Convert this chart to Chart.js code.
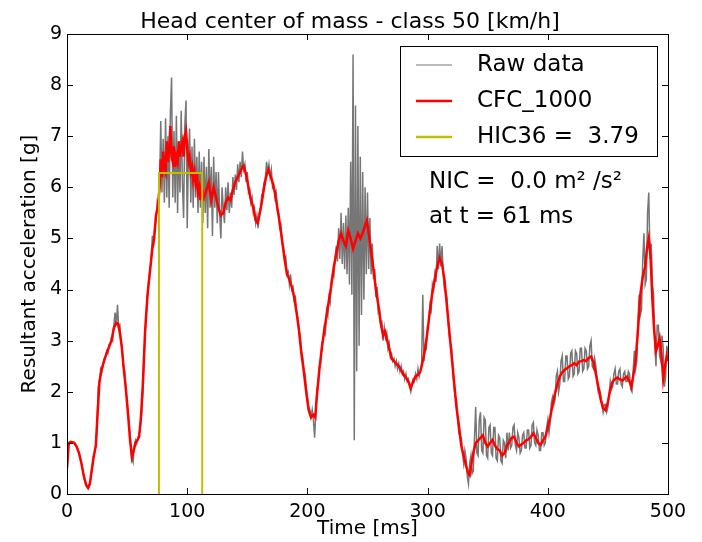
<!DOCTYPE html>
<html>
<head>
<meta charset="utf-8">
<script src="https://cdn.jsdelivr.net/npm/chart.js@4.4.0/dist/chart.umd.min.js"></script>
<style>
  html, body { margin: 0; padding: 0; background: #fff; }
</style>
</head>
<body>
<canvas id="chart" width="702" height="542"></canvas>
<script>
// raw signal, one sample every ms starting at t = 0
var rawStep = 1;
var rawValues = [
  0.5, 0.95, 1.0, 1.02, 1.02, 1.01, 1.0, 0.97, 0.93, 0.87,
  0.8, 0.7, 0.6, 0.48, 0.35, 0.25, 0.17, 0.13, 0.12, 0.18,
  0.36, 0.52, 0.72, 0.82, 0.93, 1.3, 2.1, 2.2, 2.45, 2.4,
  2.5, 2.65, 2.7, 2.8, 2.75, 2.92, 2.95, 3.05, 3.0, 3.3,
  3.55, 3.3, 3.7, 3.25, 3.3, 2.95, 2.8, 2.5, 2.4, 2.0,
  1.8, 1.55, 1.25, 1.0, 0.7, 0.62, 0.95, 1.05, 0.98, 1.1,
  1.18, 1.3, 1.55, 1.95, 2.55, 3.1, 3.55, 3.85, 4.2, 4.35,
  4.6, 5.05, 4.85, 5.2, 5.35, 5.7, 5.6, 5.95, 7.3, 5.9,
  6.95, 5.7, 7.35, 5.8, 7.0, 5.6, 7.45, 8.15, 5.8, 7.1,
  5.7, 7.4, 5.5, 6.9, 5.9, 7.5, 6.1, 5.4, 7.2, 7.7,
  5.2, 6.6, 7.15, 5.7, 6.8, 5.6, 6.95, 5.8, 6.6, 5.5,
  6.7, 5.6, 6.5, 5.3, 6.6, 5.5, 6.4, 5.2, 6.75, 5.6,
  6.4, 5.05, 6.6, 5.6, 6.3, 5.3, 6.3, 5.5, 5.0, 6.0,
  5.6, 5.3, 6.0, 5.55, 6.1, 5.5, 5.9, 5.6, 6.2, 5.85,
  6.25, 5.95, 6.45, 6.1, 6.5, 6.2, 6.7, 6.35, 6.45, 6.1,
  6.3, 5.9, 5.95, 5.7, 5.8, 5.5, 5.6, 5.3, 5.45, 5.2,
  5.5, 5.55, 5.85, 5.9, 6.1, 6.15, 6.5, 6.3, 6.45, 6.2,
  6.35, 6.0, 6.05, 5.8, 5.9, 5.55, 5.5, 5.2, 5.25, 4.9,
  4.85, 4.6, 4.65, 4.3, 4.35, 4.1, 4.3, 4.0, 4.05, 3.8,
  3.85, 3.55, 3.45, 3.2, 3.1, 2.8, 2.7, 2.45, 2.35, 2.1,
  1.9, 1.7, 1.65, 1.5, 1.65, 1.45, 1.1, 1.6, 2.05, 2.15,
  2.5, 2.55, 2.95, 3.0, 3.25, 3.15, 3.6, 3.5, 3.85, 3.75,
  4.2, 4.3, 4.25, 4.6, 4.85, 4.55, 5.2, 4.6, 5.5, 4.5,
  5.3, 4.4, 5.45, 4.3, 5.6, 4.1, 6.5, 3.9, 8.6, 1.05,
  7.6, 2.4, 7.2, 2.9, 6.6, 3.5, 6.3, 3.8, 6.0, 4.3,
  5.9, 4.4, 5.4, 4.3, 4.9, 4.2, 4.4, 3.85, 4.05, 3.55,
  3.6, 3.3, 3.35, 3.0, 3.25, 3.05, 3.15, 2.85, 2.95, 2.7,
  2.75, 2.6, 2.65, 2.5, 2.6, 2.45, 2.55, 2.4, 2.5, 2.35,
  2.4, 2.25, 2.35, 2.2, 2.25, 2.1, 2.0, 2.15, 2.25, 2.2,
  2.35, 2.25, 2.45, 2.3, 2.4, 2.5, 3.9, 2.6, 2.9, 2.85,
  3.3, 3.35, 3.7, 3.6, 4.1, 4.0, 4.3, 4.15, 4.85, 4.4,
  4.9, 4.45, 4.85, 4.3, 4.0, 3.95, 3.85, 3.4, 3.1, 2.95,
  2.85, 2.45, 2.1, 1.9, 1.85, 1.45, 1.2, 1.1, 1.1, 0.8,
  0.6, 0.85, 0.7, 0.35, 0.2, 0.6, 0.75, 0.4, 0.45, 1.1,
  1.7, 0.8, 0.75, 1.45, 1.6, 0.85, 0.8, 1.5, 1.45, 0.75,
  0.7, 1.3, 1.35, 0.8, 0.75, 1.3, 1.3, 0.7, 0.65, 1.15,
  1.1, 0.65, 0.6, 1.05, 1.0, 0.7, 1.2, 0.85, 1.2, 0.9,
  0.95, 1.3, 1.35, 0.95, 0.85, 1.2, 1.1, 0.8, 0.85, 1.15,
  1.2, 0.9, 0.9, 1.25, 1.25, 0.9, 0.95, 1.35, 1.4, 1.0,
  0.95, 1.25, 1.15, 0.85, 0.85, 1.2, 1.2, 0.95, 1.0, 1.3,
  1.45, 1.2, 1.4, 1.8, 1.9, 1.75, 1.85, 2.3, 2.4, 2.0,
  2.15, 2.6, 2.7, 2.2, 2.2, 2.7, 2.7, 2.25, 2.3, 2.75,
  2.8, 2.3, 2.35, 2.8, 2.75, 2.35, 2.4, 2.85, 2.85, 2.4,
  2.45, 2.85, 2.8, 2.45, 2.5, 2.9, 3.0, 2.5, 2.45, 2.65,
  2.5, 2.2, 2.0, 2.05, 1.95, 1.75, 1.6, 1.75, 1.75, 1.6,
  1.7, 1.95, 2.2, 2.05, 2.1, 2.35, 2.45, 2.15, 2.15, 2.4,
  2.45, 2.15, 2.1, 2.35, 2.4, 2.2, 2.2, 2.4, 2.35, 2.05,
  2.0, 2.4, 2.8, 2.45, 2.6, 3.4, 3.9, 3.5, 3.6, 4.6,
  5.1, 4.1, 4.2, 5.5, 5.9, 4.6, 4.9, 4.1, 3.9, 2.9,
  2.5, 3.3, 3.3, 2.7, 2.6, 3.1, 2.85, 2.1, 2.3, 2.9,
  2.75
];

// CFC_1000 filtered curve
var cfcTime = [
  0, 1.5, 3, 6, 8, 10, 12, 14, 16, 17.5, 19, 20.5, 22, 24, 25.5, 27, 29, 31, 33, 35,
  37, 39, 41, 42.5, 44, 45.5, 47, 49, 51, 52.5, 54, 55.5, 57, 58.5, 60, 61.5, 63, 65, 67, 69,
  71, 72.5, 74, 75.5, 77, 78, 79, 80, 81, 82, 83, 84, 85, 86, 87, 88, 89, 90, 91, 92,
  93, 94, 95, 96, 97, 98, 99, 100, 101, 102, 103, 104, 105, 106, 107, 108, 109, 110, 111, 112,
  114, 116, 118, 120, 122, 124, 126, 128, 130, 132, 134, 136, 138, 140, 142, 144, 146, 147, 149, 151,
  153, 155, 157, 158.5, 160, 162, 164, 166, 167.5, 169, 171, 173, 175, 177, 179, 181, 183, 185, 187, 189,
  191, 193, 195, 197, 199, 201, 203, 205, 206.5, 208, 210, 212, 214, 216, 218, 220, 222, 224, 226, 228,
  230, 232, 234, 236, 238, 240, 242, 244, 246, 248, 249.5, 251, 253, 255, 257, 259, 261, 263, 264.5, 266,
  268, 270, 272, 274, 276, 278, 280, 282, 284, 286, 288, 290, 292, 294, 296, 298, 300, 302, 304, 306,
  308, 310, 312, 314, 316, 318, 320, 322, 324, 326, 328, 330, 332, 334, 335, 336.5, 338, 340, 342, 344,
  346, 348, 350, 352, 354, 356, 358, 360, 362, 364, 366, 368, 370, 372, 374, 376, 378, 380, 382, 384,
  386, 388, 390, 392, 394, 396, 398, 400, 402, 404, 406, 408, 410, 412, 414, 416, 418, 420, 422, 424,
  426, 428, 430, 432, 434, 436, 438, 440, 442, 444, 446, 448, 450, 452, 454, 456, 458, 460, 462, 464,
  466, 468, 469.5, 471, 473, 475, 477, 479, 481, 482.5, 484, 485.5, 487, 488.5, 490, 491.5, 493, 494.5, 496, 497.5,
  499, 500
];
var cfcValue = [
  0.5, 1.0, 1.02, 1.0, 0.93, 0.8, 0.6, 0.35, 0.17, 0.12, 0.2, 0.45, 0.7, 0.95, 1.6, 2.2, 2.45, 2.62, 2.75, 2.88,
  3.0, 3.25, 3.35, 3.33, 3.15, 2.9, 2.5, 2.05, 1.5, 1.05, 0.72, 0.85, 1.0, 1.05, 1.12, 1.5, 2.1, 3.2, 3.9, 4.35,
  4.8, 5.0, 5.45, 5.6, 6.0, 6.55, 6.2, 6.7, 6.4, 6.3, 6.9, 6.5, 6.7, 7.2, 6.6, 6.5, 6.8, 6.4, 6.6, 6.5,
  6.9, 6.6, 6.8, 6.9, 6.6, 7.0, 7.1, 6.8, 6.5, 6.6, 6.3, 6.4, 6.15, 6.3, 6.1, 6.3, 5.9, 6.0, 5.75, 6.0,
  5.8, 5.95, 6.1, 5.75, 6.0, 5.8, 5.6, 5.45, 5.5, 5.7, 5.8, 5.75, 5.95, 6.1, 6.2, 6.3, 6.4, 6.42, 6.25, 6.0,
  5.75, 5.6, 5.35, 5.3, 5.45, 5.7, 6.0, 6.25, 6.35, 6.25, 6.1, 5.9, 5.6, 5.3, 4.95, 4.6, 4.3, 4.2, 4.05, 3.85,
  3.55, 3.2, 2.75, 2.4, 2.0, 1.65, 1.5, 1.55, 1.5, 1.95, 2.45, 2.85, 3.2, 3.5, 3.8, 4.1, 4.45, 4.7, 4.95, 5.1,
  4.95, 4.85, 5.15, 5.0, 4.8, 4.95, 5.1, 5.0, 5.1, 5.25, 5.35, 5.1, 4.75, 4.4, 4.0, 3.7, 3.35, 3.1, 3.18, 3.05,
  2.85, 2.65, 2.6, 2.55, 2.5, 2.42, 2.33, 2.28, 2.2, 2.07, 2.2, 2.3, 2.33, 2.4, 2.6, 2.85, 3.2, 3.6, 3.95, 4.2,
  4.45, 4.62, 4.5, 4.2, 3.7, 3.2, 2.7, 2.2, 1.7, 1.35, 0.95, 0.75, 0.55, 0.4, 0.37, 0.6, 0.8, 1.0, 1.05, 1.1,
  1.15, 1.0, 0.93, 1.0, 1.06, 0.95, 0.88, 0.85, 0.75, 0.8, 0.95, 1.02, 1.1, 1.12, 1.0, 0.93, 0.97, 1.0, 1.05, 1.07,
  1.12, 1.19, 1.1, 1.0, 0.96, 1.05, 1.12, 1.3, 1.5, 1.75, 1.97, 2.15, 2.3, 2.38, 2.43, 2.46, 2.5, 2.52, 2.56, 2.52,
  2.59, 2.6, 2.62, 2.6, 2.66, 2.69, 2.58, 2.35, 2.1, 1.85, 1.68, 1.64, 1.8, 2.05, 2.2, 2.25, 2.28, 2.24, 2.22, 2.26,
  2.3, 2.2, 2.1, 2.3, 2.6, 3.2, 3.9, 4.25, 4.45, 4.8, 5.0, 4.65, 3.8, 3.2, 2.8, 2.9, 3.05, 2.75, 2.25, 2.5,
  2.7, 2.6
];

// HIC36 window
var hicTime = [76.5, 76.5, 112.5, 112.5];
var hicValue = [0, 6.28, 6.28, 0];

var xTicks = [0, 100, 200, 300, 400, 500];
var yTicks = [0, 1, 2, 3, 4, 5, 6, 7, 8, 9];

var chartTitle = 'Head center of mass - class 50 [km/h]';
var legendLabels = ['Raw data', 'CFC_1000', 'HIC36 =  3.79'];
var nicText = 'NIC =  0.0 m\u00b2 /s\u00b2';
var nicTimeText = 'at t = 61 ms';

var FONT = 'DejaVu Sans';

var rawPoints = rawValues.map(function (v, i) { return { x: i * rawStep, y: v }; });
var cfcPoints = cfcTime.map(function (t, i) { return { x: t, y: cfcValue[i] }; });
var hicPoints = hicTime.map(function (t, i) { return { x: t, y: hicValue[i] }; });

var colors = ['#767676', '#ff0000', '#bfbf00'];

// matplotlib style frame, inward ticks, title, legend box and NIC text
var decorations = {
  id: 'decorations',
  afterDatasetsDraw: function (chart) {
    var ctx = chart.ctx, a = chart.chartArea;
    var xs = chart.scales.x, ys = chart.scales.y;
    ctx.save();
    ctx.strokeStyle = '#000';
    ctx.lineWidth = 1;
    ctx.strokeRect(Math.round(a.left) + 0.5, Math.round(a.top) + 0.5,
      Math.round(a.right - a.left), Math.round(a.bottom - a.top));

    ctx.beginPath();
    xTicks.forEach(function (v) {
      var px = Math.round(xs.getPixelForValue(v)) + 0.5;
      ctx.moveTo(px, a.bottom); ctx.lineTo(px, a.bottom - 6);
      ctx.moveTo(px, a.top); ctx.lineTo(px, a.top + 6);
    });
    yTicks.forEach(function (v) {
      var py = Math.round(ys.getPixelForValue(v)) + 0.5;
      ctx.moveTo(a.left, py); ctx.lineTo(a.left + 6, py);
      ctx.moveTo(a.right, py); ctx.lineTo(a.right - 6, py);
    });
    ctx.stroke();

    ctx.fillStyle = '#000';
    ctx.font = '22px "' + FONT + '"';
    ctx.textAlign = 'center';
    ctx.textBaseline = 'alphabetic';
    ctx.fillText(chartTitle, 350, 28);

    // legend
    var bx = 400.5, by = 46.5, bw = 257, bh = 110;
    ctx.fillStyle = '#fff';
    ctx.fillRect(bx, by, bw, bh);
    ctx.strokeRect(bx, by, bw, bh);
    ctx.font = '23px "' + FONT + '"';
    ctx.textBaseline = 'middle';
    ctx.textAlign = 'left';
    legendLabels.forEach(function (lab, i) {
      var y = 65 + i * 36;
      ctx.strokeStyle = colors[i];
      ctx.lineWidth = i === 0 ? 1.2 : 2.5;
      ctx.beginPath();
      ctx.moveTo(416, y); ctx.lineTo(452, y);
      ctx.stroke();
      ctx.fillStyle = '#000';
      ctx.fillText(lab, 477, y);
    });

    ctx.fillStyle = '#000';
    ctx.fillText(nicText, 429, 182);
    ctx.fillText(nicTimeText, 429, 217);
    ctx.restore();
  }
};

new Chart(document.getElementById('chart'), {
  type: 'line',
  data: {
    datasets: [
      { label: legendLabels[0], data: rawPoints, borderColor: colors[0], borderWidth: 1.5, pointRadius: 0, order: 3 },
      { label: legendLabels[1], data: cfcPoints, borderColor: colors[1], borderWidth: 2.5, pointRadius: 0, order: 2 },
      { label: legendLabels[2], data: hicPoints, borderColor: colors[2], borderWidth: 2, pointRadius: 0, order: 1 }
    ]
  },
  options: {
    responsive: false,
    animation: false,
    layout: { padding: { left: 0, right: 34, top: 34, bottom: 0 } },
    plugins: {
      legend: { display: false },
      tooltip: { enabled: false },
      title: { display: false }
    },
    scales: {
      x: {
        type: 'linear',
        min: 0, max: 500,
        afterBuildTicks: function (s) { s.ticks = xTicks.map(function (v) { return { value: v }; }); },
        ticks: { color: '#000', font: { family: FONT, size: 19 }, padding: 7, maxRotation: 0 },
        grid: { display: false, drawTicks: false },
        border: { display: false },
        title: { display: true, text: 'Time [ms]', color: '#000', font: { family: FONT, size: 20 }, padding: { top: 0, bottom: 1 } },
        afterFit: function (s) { s.height = 48; }
      },
      y: {
        min: 0, max: 9,
        afterBuildTicks: function (s) { s.ticks = yTicks.map(function (v) { return { value: v }; }); },
        ticks: { color: '#000', font: { family: FONT, size: 19 }, padding: 5 },
        grid: { display: false, drawTicks: false },
        border: { display: false },
        title: { display: true, text: 'Resultant acceleration [g]', color: '#000', font: { family: FONT, size: 20 }, padding: { top: 18, bottom: 0 } },
        afterFit: function (s) { s.width = 67; }
      }
    }
  },
  plugins: [decorations]
});
</script>
</body>
</html>
